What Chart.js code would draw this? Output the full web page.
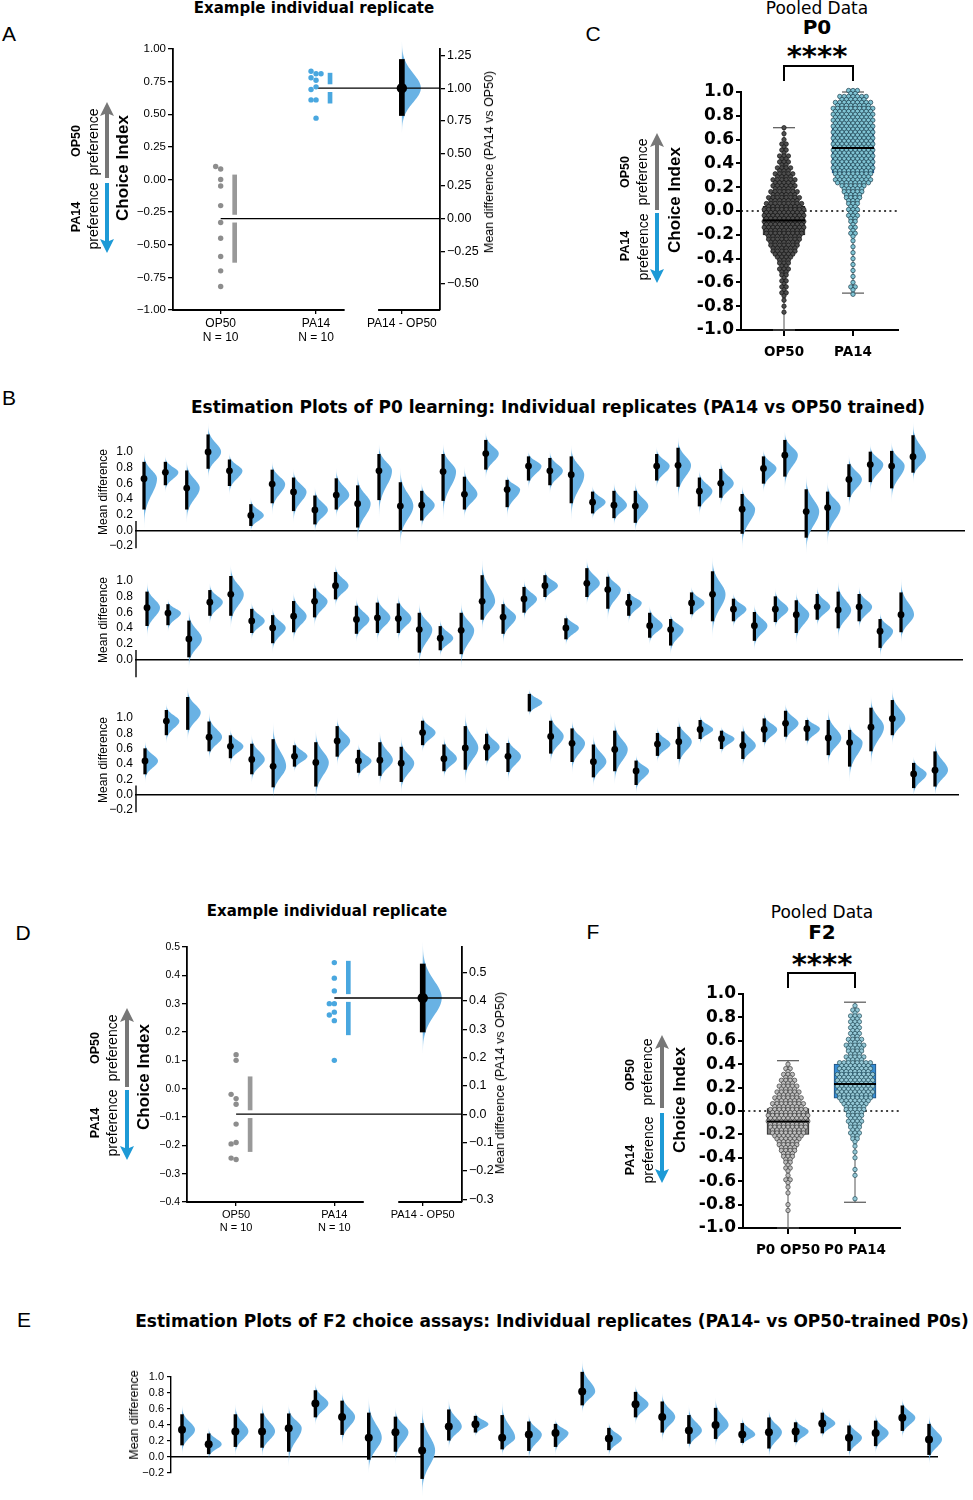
<!DOCTYPE html>
<html>
<head>
<meta charset="utf-8">
<title>P0 / F2 choice assays</title>
<script src="https://cdn.jsdelivr.net/npm/chart.js@4.4.1/dist/chart.umd.min.js"></script>
<style>
  html, body { margin: 0; padding: 0; background: #fff; }
  body { position: relative; width: 973px; height: 1500px; overflow: hidden; font-family: "Liberation Sans", Arial, sans-serif; color: #000; }
  canvas { position: absolute; }
  .lab { position: absolute; white-space: nowrap; line-height: 1; transform: translate(-50%, -50%); }
</style>
</head>
<body>
<script>
// ---------- data ----------

// A: example P0 replicate
const estLabels = [['OP50', 'N = 10'], ['PA14', 'N = 10'], 'PA14 - OP50'];
const estX = [0, 1, 1.9];
const aOP50 = [0.08, 0.10, 0.00, -0.05, -0.20, -0.33, -0.45, -0.59, -0.70, -0.82];
const aPA14 = [0.81, 0.83, 0.81, 0.78, 0.76, 0.71, 0.69, 0.61, 0.61, 0.47];
const aMean = [-0.30, 0.70];
const aSD = [0.335, 0.115];
const aDiff = [1.00];
const aDiffLo = [0.79];
const aDiffHi = [1.22];
const aTicks = [-1, -0.75, -0.5, -0.25, 0, 0.25, 0.5, 0.75, 1];
const aTicks2 = [-0.5, -0.25, 0, 0.25, 0.5, 0.75, 1, 1.25];

// D: example F2 replicate
const dOP50 = [0.12, 0.10, -0.035, -0.02, -0.055, -0.125, -0.19, -0.195, -0.25, -0.245];
const dPA14 = [0.445, 0.39, 0.345, 0.30, 0.30, 0.27, 0.26, 0.24, 0.10];
const dMean = [-0.09, 0.32];
const dSD = [0.132, 0.13];
const dDiff = [0.41];
const dDiffLo = [0.29];
const dDiffHi = [0.53];
const dTicks = [-0.4, -0.3, -0.2, -0.1, 0, 0.1, 0.2, 0.3, 0.4, 0.5];
const dTicks2 = [-0.3, -0.2, -0.1, 0, 0.1, 0.2, 0.3, 0.4, 0.5];

// C / F: pooled box plots
const cLabels = ['OP50', 'PA14'];
const cMin = [-1.0, -0.69];
const cQ1 = [-0.20, 0.32];
const cMed = [-0.08, 0.53];
const cQ3 = [0.04, 0.73];
const cMax = [0.70, 1.00];
const fLabels = ['P0 OP50', 'P0 PA14'];
const fMin = [-1.0, -0.78];
const fQ1 = [-0.20, 0.11];
const fMed = [-0.09, 0.23];
const fQ3 = [0.02, 0.40];
const fMax = [0.43, 0.93];
const pooledTicks = [-1, -0.8, -0.6, -0.4, -0.2, 0, 0.2, 0.4, 0.6, 0.8, 1];
// swarm: how many dots sit side by side at each choice-index level
const swarmLevels = [1.00, 0.95, 0.90, 0.85, 0.80, 0.75, 0.70, 0.65, 0.60, 0.55, 0.50, 0.45, 0.40, 0.35, 0.30, 0.25, 0.20, 0.15, 0.10, 0.05,
  0.00, -0.05, -0.10, -0.15, -0.20, -0.25, -0.30, -0.35, -0.40, -0.45, -0.50, -0.55, -0.60, -0.65, -0.70, -0.75, -0.80, -0.85, -0.90, -0.95, -1.00];
const cOP50Count = [0,0,0,0,0,0, 1,1,1,2,2,3,3,4,5,6,6,7,8,9, 10,10,10,10,9,8,7,6,4,3, 3,2,2,2,2,1,1,1,0,0,0];
const cPA14Count = [3,7,9, 10,10,10,10,10,10,10,10,10,10,10, 9,9,6,5,4,3, 3,3,2,2,2,1,1,1,1,1, 1,1,1,2,1, 0,0,0,0,0,0];
const fOP50Count = [0,0,0,0,0,0,0,0,0,0,0,0, 1,2,3,4,5,6,7,8, 9,10,10,9,8,6,5,4,3,2, 2,1,2,1,1,0,1,1,0,0,0];
const fPA14Count = [0,0,1,2,3,3,3,3,4,5,4,5,8,8,9,9,9,9,8,6, 5,4,4,3,3,2,1,1,1,0, 1,1,0,0,0,1,0,0,0,0,0];

// B: P0 replicates, mean difference with 95% CI, three rows
const r1Mean = [0.66, 0.74, 0.54, 1.00, 0.76, 0.19, 0.59, 0.49, 0.26, 0.45, 0.34, 0.76, 0.31, 0.32, 0.75, 0.46, 0.98, 0.52, 0.82, 0.76, 0.71, 0.36, 0.32, 0.31, 0.82, 0.83, 0.50, 0.60, 0.27, 0.79, 0.96, 0.24, 0.29, 0.65, 0.84, 0.82, 0.94];
const r1Hi = [0.87, 0.87, 0.76, 1.22, 0.90, 0.33, 0.77, 0.67, 0.44, 0.66, 0.57, 0.97, 0.61, 0.50, 0.97, 0.68, 1.15, 0.64, 0.94, 0.92, 0.94, 0.49, 0.50, 0.50, 0.97, 1.05, 0.67, 0.78, 0.46, 0.94, 1.15, 0.52, 0.49, 0.84, 1.00, 1.01, 1.21];
const r1Lo = [0.27, 0.58, 0.27, 0.79, 0.57, 0.06, 0.35, 0.25, 0.08, 0.27, 0.04, 0.39, 0.00, 0.13, 0.38, 0.27, 0.78, 0.30, 0.64, 0.58, 0.35, 0.22, 0.16, 0.10, 0.64, 0.56, 0.31, 0.42, -0.04, 0.60, 0.69, -0.09, 0.00, 0.43, 0.62, 0.54, 0.74];
const r2Mean = [0.66, 0.59, 0.26, 0.73, 0.83, 0.49, 0.40, 0.55, 0.74, 0.94, 0.51, 0.53, 0.52, 0.38, 0.27, 0.37, 0.74, 0.54, 0.77, 0.94, 0.40, 0.97, 0.89, 0.72, 0.43, 0.38, 0.72, 0.83, 0.64, 0.43, 0.64, 0.57, 0.67, 0.63, 0.67, 0.36, 0.57];
const r2Hi = [0.86, 0.70, 0.49, 0.88, 1.06, 0.64, 0.56, 0.74, 0.90, 1.11, 0.68, 0.72, 0.71, 0.59, 0.42, 0.59, 1.07, 0.70, 0.92, 1.07, 0.52, 1.16, 1.05, 0.83, 0.59, 0.51, 0.85, 1.12, 0.77, 0.60, 0.80, 0.75, 0.83, 0.86, 0.83, 0.51, 0.85];
const r2Lo = [0.43, 0.44, 0.03, 0.56, 0.56, 0.34, 0.21, 0.35, 0.54, 0.77, 0.33, 0.34, 0.34, 0.09, 0.12, 0.07, 0.51, 0.33, 0.60, 0.80, 0.26, 0.80, 0.65, 0.56, 0.28, 0.18, 0.58, 0.49, 0.49, 0.24, 0.48, 0.34, 0.51, 0.40, 0.49, 0.15, 0.35];
const r3Mean = [0.44, 0.96, 1.07, 0.75, 0.63, 0.46, 0.37, 0.50, 0.42, 0.70, 0.44, 0.45, 0.41, 0.81, 0.47, 0.61, 0.62, 0.50, 1.20, 0.76, 0.67, 0.43, 0.59, 0.31, 0.66, 0.69, 0.85, 0.73, 0.64, 0.85, 0.93, 0.86, 0.74, 0.68, 0.88, 0.99, 0.27, 0.32];
const r3Hi = [0.60, 1.10, 1.27, 0.95, 0.77, 0.66, 0.72, 0.64, 0.68, 0.89, 0.58, 0.68, 0.62, 0.96, 0.65, 0.89, 0.79, 0.67, 1.31, 0.96, 0.86, 0.65, 0.83, 0.44, 0.80, 0.88, 0.97, 0.83, 0.82, 0.99, 1.09, 0.97, 0.97, 0.84, 1.13, 1.23, 0.41, 0.56];
const r3Lo = [0.27, 0.78, 0.85, 0.57, 0.48, 0.27, 0.10, 0.37, 0.11, 0.50, 0.29, 0.25, 0.17, 0.65, 0.31, 0.33, 0.45, 0.30, 1.09, 0.54, 0.43, 0.23, 0.31, 0.13, 0.51, 0.47, 0.73, 0.60, 0.47, 0.69, 0.76, 0.71, 0.52, 0.37, 0.57, 0.78, 0.09, 0.11];
// E: F2 replicates
const eMean = [0.34, 0.16, 0.32, 0.32, 0.36, 0.67, 0.50, 0.24, 0.31, 0.08, 0.38, 0.41, 0.24, 0.28, 0.30, 0.82, 0.23, 0.66, 0.50, 0.33, 0.40, 0.28, 0.31, 0.32, 0.42, 0.24, 0.30, 0.49, 0.22];
const eHi = [0.53, 0.29, 0.53, 0.54, 0.54, 0.83, 0.70, 0.55, 0.50, 0.42, 0.59, 0.51, 0.52, 0.44, 0.41, 1.06, 0.36, 0.81, 0.69, 0.52, 0.61, 0.42, 0.49, 0.43, 0.55, 0.39, 0.45, 0.64, 0.41];
const eLo = [0.15, 0.04, 0.13, 0.12, 0.07, 0.50, 0.28, -0.03, 0.07, -0.27, 0.21, 0.31, 0.10, 0.08, 0.13, 0.65, 0.09, 0.50, 0.31, 0.17, 0.23, 0.18, 0.11, 0.19, 0.30, 0.08, 0.14, 0.33, 0.03];
const rowTicks = [-0.2, 0, 0.2, 0.4, 0.6, 0.8, 1.0];
const rowTicksNoNeg = [0, 0.2, 0.4, 0.6, 0.8, 1.0];

// ---------- styling ----------
const GREY_DOT = '#8d8d8d';
const BLUE_DOT = '#49a7df';
const VIOLIN = '105,178,228';
const SANS = '"Liberation Sans", Arial, sans-serif';
const DEJA = '"DejaVu Sans", sans-serif';

Chart.defaults.font.family = SANS;
Chart.defaults.color = '#000';
Chart.defaults.animation = false;
Chart.defaults.responsive = false;
Chart.defaults.events = [];
Chart.defaults.plugins.legend.display = false;
Chart.defaults.plugins.tooltip.enabled = false;

const minus1 = v => (v < 0 ? '\u2212' : '') + Math.abs(v).toFixed(1);
const minus2 = v => (v < 0 ? '\u2212' : '') + Math.abs(v).toFixed(2);

// ---------- helpers ----------
function label(x, y, text, font, rot) {
  const d = document.createElement('div');
  d.className = 'lab';
  d.textContent = text;
  d.style.left = x + 'px';
  d.style.top = y + 'px';
  d.style.font = font;
  if (rot) d.style.transform = 'translate(-50%, -50%) rotate(-90deg)';
  document.body.appendChild(d);
}

function arrow(x, y1, y2, color, up) {
  const ns = 'http://www.w3.org/2000/svg';
  const s = document.createElementNS(ns, 'svg');
  const w = 16, h = y2 - y1, hd = 14;
  s.setAttribute('width', w);
  s.setAttribute('height', h);
  s.style.cssText = 'position:absolute;left:' + (x - w / 2) + 'px;top:' + y1 + 'px';
  const p = document.createElementNS(ns, 'path');
  p.setAttribute('d', up
    ? `M8 0 L15 ${hd} L10 ${hd - 2} L10 ${h} L6 ${h} L6 ${hd - 2} L1 ${hd} Z`
    : `M8 ${h} L15 ${h - hd} L10 ${h - hd + 2} L10 0 L6 0 L6 ${h - hd + 2} L1 ${h - hd} Z`);
  p.setAttribute('fill', color);
  s.appendChild(p);
  document.body.appendChild(s);
}

// the rotated "Choice Index" title with its preference arrows
function choiceAxis(o) {
  label(o.ci[0], o.ci[1], 'Choice Index', 'bold 17px ' + SANS, true);
  label(o.op[0], o.op[1], 'OP50', 'bold 12.5px ' + SANS, true);
  label(o.opPref[0], o.opPref[1], 'preference', '14px ' + SANS, true);
  label(o.pa[0], o.pa[1], 'PA14', 'bold 12.5px ' + SANS, true);
  label(o.paPref[0], o.paPref[1], 'preference', '14px ' + SANS, true);
  arrow(o.ax, o.grey[0], o.grey[1], '#777', true);
  arrow(o.ax, o.blue[0], o.blue[1], '#1d9ad6', false);
}

function makeCanvas(geo, pad) {
  const c = document.createElement('canvas');
  const l = Math.round(geo.l), t = Math.round(geo.t);
  c.width = Math.round(geo.r) - l + pad.l + pad.r;
  c.height = Math.round(geo.b) - t + pad.t + pad.b;
  c.style.left = (l - pad.l) + 'px';
  c.style.top = (t - pad.t) + 'px';
  document.body.appendChild(c);
  return c;
}

// half violin (bootstrap distribution) to the right of each estimate
function violinPlugin(xs, mean, lo, hi, width, axisId) {
  return {
    id: 'violin',
    beforeDatasetsDraw(chart) {
      const sx = chart.scales.x, sy = chart.scales[axisId], ctx = chart.ctx;
      mean.forEach((m, i) => {
        const su = (hi[i] - m) / 1.96, sd = (m - lo[i]) / 1.96;
        const cx = sx.getPixelForValue(xs[i]);
        const top = sy.getPixelForValue(m + 3.2 * su), bot = sy.getPixelForValue(m - 3.2 * sd);
        const frac = v => Math.min(1, Math.max(0, (sy.getPixelForValue(v) - top) / (bot - top)));
        const g = ctx.createLinearGradient(0, top, 0, bot);
        g.addColorStop(0, `rgba(${VIOLIN},0.1)`);
        g.addColorStop(frac(m + 2 * su), `rgba(${VIOLIN},1)`);
        g.addColorStop(frac(m - 2 * sd), `rgba(${VIOLIN},1)`);
        g.addColorStop(1, `rgba(${VIOLIN},0.1)`);
        ctx.save();
        ctx.fillStyle = g;
        ctx.beginPath();
        ctx.moveTo(cx, top);
        for (let k = 0; k <= 64; k++) {
          const t = 3.2 - 6.4 * k / 64;
          ctx.lineTo(cx + width * Math.exp(-t * t / 2), sy.getPixelForValue(m + t * (t > 0 ? su : sd)));
        }
        ctx.lineTo(cx, bot);
        ctx.closePath();
        ctx.fill();
        ctx.restore();
      });
    }
  };
}

function segmentsPlugin(segs, lw) {
  return {
    id: 'segments',
    afterDraw(chart) {
      const sx = chart.scales.x, ctx = chart.ctx, y = chart.chartArea.bottom;
      ctx.save();
      ctx.strokeStyle = '#000';
      ctx.lineWidth = lw;
      segs.forEach(([a, b]) => {
        ctx.beginPath();
        ctx.moveTo(sx.getPixelForValue(a) - lw / 2, y);
        ctx.lineTo(sx.getPixelForValue(b), y);
        ctx.stroke();
      });
      ctx.restore();
    }
  };
}

function stubPlugin(from, to, lw) {
  return {
    id: 'stub',
    afterDraw(chart) {
      const sy = chart.scales.y, ctx = chart.ctx, x = chart.chartArea.left;
      ctx.save();
      ctx.strokeStyle = '#000';
      ctx.lineWidth = lw;
      ctx.beginPath();
      ctx.moveTo(x, sy.getPixelForValue(from));
      ctx.lineTo(x, sy.getPixelForValue(to));
      ctx.stroke();
      ctx.restore();
    }
  };
}

function bracketPlugin(up, down) {
  return {
    id: 'bracket',
    afterDraw(chart) {
      const sx = chart.scales.x, ctx = chart.ctx, t = chart.chartArea.top;
      const x0 = sx.getPixelForValue(0), x1 = sx.getPixelForValue(1);
      ctx.save();
      ctx.strokeStyle = '#000';
      ctx.lineWidth = 2;
      ctx.beginPath();
      ctx.moveTo(x0, t - down);
      ctx.lineTo(x0, t - up);
      ctx.lineTo(x1, t - up);
      ctx.lineTo(x1, t - down);
      ctx.stroke();
      ctx.restore();
    }
  };
}

// raw replicate dots spread sideways when they would overlap
function swarmRaw(values, cx, pxY, pxX, d) {
  const placed = [];
  return values.map(v => {
    const py = v * pxY;
    let k = 0;
    for (const s of [0, -1, 1, -2, 2, -3, 3]) {
      if (placed.every(p => Math.hypot(p.px - s * d, p.py - py) >= d * 0.9)) { k = s; break; }
    }
    placed.push({px: k * d, py});
    return {x: cx + k * d / pxX, y: v};
  });
}

// dot rows for the pooled swarms: two staggered rows per level
function swarmFromCounts(levels, counts, cx, pxX, dotPx) {
  const pts = [];
  const dy = (levels[0] - levels[1]) / 4;
  levels.forEach((v, i) => {
    const n = counts[i];
    if (!n) return;
    if (n === 1) { pts.push({x: cx, y: v}); return; }
    for (let k = 0; k < n; k++) pts.push({x: cx + (k - (n - 1) / 2) * dotPx / pxX, y: v + dy});
    for (let k = 0; k < n - 1; k++) pts.push({x: cx + (k - (n - 2) / 2) * dotPx / pxX, y: v - dy});
  });
  return pts;
}

const hline = (x0, x1, y, color, w, extra) => Object.assign({
  type: 'line', data: [{x: x0, y}, {x: x1, y}], borderColor: color, borderWidth: w,
  pointRadius: 0, fill: false, clip: false
}, extra || {});

// ---------- Gardner-Altman panels (A, D) ----------
function estimationPanel(geo, yMin, yMax, ticks, ticks2, fmt, ctl, trt, mean, sd, diff, dLo, dHi, fs) {
  const pad = {l: 50, t: 12, r: 52, b: 40};
  const xMin = -0.5, xMax = 2.3;
  const pxX = (geo.r - geo.l) / (xMax - xMin);
  const pxY = (geo.b - geo.t) / (yMax - yMin);
  const shift = -mean[0];
  const gap = 4.2 / pxY, sdOff = 14 / pxX;
  const canvas = makeCanvas(geo, pad);
  const sdBars = [];
  mean.forEach((m, g) => {
    sdBars.push({x: g + sdOff, y: [m + gap, m + sd[g]]});
    sdBars.push({x: g + sdOff, y: [m - sd[g], m - gap]});
  });
  new Chart(canvas, {
    type: 'scatter',
    data: {
      datasets: [
        hline(estX[0], xMax, mean[0], '#000', 1.3, {order: 6}),
        hline(estX[1], xMax, mean[1], '#000', 1.3, {order: 6}),
        {data: swarmRaw(ctl, estX[0], pxY, pxX, 5), pointRadius: 2.7, backgroundColor: GREY_DOT, borderWidth: 0, clip: false, order: 3},
        {data: swarmRaw(trt, estX[1], pxY, pxX, 5), pointRadius: 2.7, backgroundColor: BLUE_DOT, borderWidth: 0, clip: false, order: 3},
        {type: 'bar', data: sdBars, backgroundColor: ['#999', '#999', BLUE_DOT, BLUE_DOT], barThickness: 4, grouped: false, clip: false, order: 4},
        {type: 'bar', yAxisID: 'y2', data: diff.map((m, i) => ({x: estX[2], y: [dLo[i], dHi[i]]})), backgroundColor: '#000', barThickness: 5, grouped: false, clip: false, order: 2},
        {yAxisID: 'y2', data: diff.map(m => ({x: estX[2], y: m})), pointRadius: 5.2, backgroundColor: '#000', borderWidth: 0, clip: false, order: 1}
      ]
    },
    options: {
      layout: {padding: {top: pad.t, left: 0, right: 0, bottom: 0}},
      scales: {
        x: {
          type: 'linear', min: xMin, max: xMax, offset: false,
          afterFit: s => { s.height = pad.b; },
          afterBuildTicks: s => { s.ticks = estX.map(v => ({value: v})); },
          ticks: {callback: (v, i) => estLabels[i], font: {size: fs.x}, padding: 2, maxRotation: 0, autoSkip: false},
          grid: {display: true, drawOnChartArea: false, tickLength: 4, lineWidth: 1.3, color: '#000', offset: false},
          border: {display: false}
        },
        y: {
          type: 'linear', min: yMin, max: yMax,
          afterFit: s => { s.width = pad.l; },
          afterBuildTicks: s => { s.ticks = ticks.map(v => ({value: v})); },
          ticks: {callback: v => fmt(v), font: {size: fs.y}, padding: 2, autoSkip: false},
          grid: {display: true, drawOnChartArea: false, tickLength: 5, lineWidth: 1.3, color: '#000'},
          border: {display: true, width: 1.8, color: '#000'}
        },
        y2: {
          type: 'linear', position: 'right', min: yMin + shift, max: yMax + shift,
          afterFit: s => { s.width = pad.r; },
          afterBuildTicks: s => { s.ticks = ticks2.map(v => ({value: v})); },
          ticks: {callback: v => fmt(v), font: {size: fs.y2}, padding: 2, autoSkip: false},
          grid: {display: true, drawOnChartArea: false, tickLength: 5, lineWidth: 1.3, color: '#000'},
          border: {display: true, width: 1.8, color: '#000'}
        }
      }
    },
    plugins: [
      violinPlugin([estX[2]], diff, dLo, dHi, 19, 'y2'),
      segmentsPlugin([[xMin, 1.3], [1.66, xMax]], 1.8)
    ]
  });
}

// ---------- pooled box + swarm panels (C, F) ----------
function pooledPanel(geo, catPx, labels, mn, q1, md, q3, mx, counts, look, br) {
  const pad = {l: 62, t: 35, r: 10, b: 45};
  const unit = catPx[1] - catPx[0];
  const xMin = (geo.l - catPx[0]) / unit, xMax = (geo.r - catPx[0]) / unit;
  const boxHalf = 21 / unit, capHalf = 11 / unit;
  const canvas = makeCanvas(geo, pad);
  const ds = [hline(xMin, xMax, 0, '#000', 1.6, {borderDash: [2, 3.3], order: 9})];
  labels.forEach((_, g) => {
    ds.push({type: 'line', data: [{x: g, y: mn[g]}, {x: g, y: mx[g]}], borderColor: '#555', borderWidth: 1, pointRadius: 0, clip: false, order: 8});
    ds.push(hline(g - capHalf, g + capHalf, mx[g], '#555', 1.2, {order: 8}));
    ds.push(hline(g - capHalf, g + capHalf, mn[g], '#555', 1.2, {order: 8}));
    ds.push({data: swarmFromCounts(swarmLevels, counts[g], g, unit, 4.4), pointRadius: 2.2,
      backgroundColor: look.dot[g], borderColor: look.edge[g], borderWidth: 0.7, clip: false, order: 3});
    ds.push(hline(g - boxHalf, g + boxHalf, md[g], '#000', 2, {order: 1}));
  });
  ds.push({type: 'bar', data: labels.map((_, g) => ({x: g, y: [q1[g], q3[g]]})), backgroundColor: look.box,
    borderColor: look.boxEdge, borderWidth: 1, borderSkipped: false, barThickness: 42, grouped: false, clip: false, order: 5});
  new Chart(canvas, {
    type: 'scatter',
    data: {datasets: ds},
    options: {
      layout: {padding: {top: pad.t, left: 0, right: pad.r, bottom: 0}},
      scales: {
        x: {
          type: 'linear', min: xMin, max: xMax, offset: false,
          afterFit: s => { s.height = pad.b; },
          afterBuildTicks: s => { s.ticks = labels.map((_, g) => ({value: g})); },
          ticks: {callback: (v, i) => labels[i], font: {family: DEJA, weight: 'bold', size: 13.5}, padding: 8, maxRotation: 0, autoSkip: false},
          grid: {display: true, drawOnChartArea: false, tickLength: 6, lineWidth: 2, color: '#000', offset: false},
          border: {display: true, width: 2, color: '#000'}
        },
        y: {
          type: 'linear', min: -1, max: 1,
          afterFit: s => { s.width = pad.l; },
          afterBuildTicks: s => { s.ticks = pooledTicks.map(v => ({value: v})); },
          ticks: {callback: v => v.toFixed(1), font: {family: DEJA, weight: 'bold', size: 17}, padding: 2, autoSkip: false},
          grid: {display: true, drawOnChartArea: false, tickLength: 5, lineWidth: 2, color: '#000'},
          border: {display: true, width: 2, color: '#000'}
        }
      }
    },
    plugins: [bracketPlugin(br[0], br[1])]
  });
}

// ---------- rows of replicate estimates (B, E) ----------
function estimationRow(mean, lo, hi, ticks, geo, opt) {
  const n = mean.length;
  const sp = (geo.last - geo.first) / (n - 1);
  const xMin = -(geo.first - geo.l) / sp, xMax = (geo.r - geo.first) / sp;
  const pad = {l: 45, t: 45, r: 12, b: 30};
  const canvas = makeCanvas(geo, pad);
  const idx = mean.map((m, i) => i);
  new Chart(canvas, {
    type: 'scatter',
    data: {
      datasets: [
        {type: 'bar', data: idx.map(i => ({x: i, y: [lo[i], hi[i]]})), backgroundColor: '#000', barThickness: opt.ciW, grouped: false, clip: false, order: 2},
        {data: idx.map(i => ({x: i, y: mean[i]})), pointRadius: opt.dotR, backgroundColor: '#000', borderWidth: 0, clip: false, order: 1}
      ]
    },
    options: {
      layout: {padding: {top: pad.t, bottom: pad.b, left: 0, right: pad.r}},
      scales: {
        x: {
          type: 'linear', min: xMin, max: xMax, offset: false, position: {y: 0},
          ticks: {display: false}, grid: {display: false},
          border: {display: true, color: '#000', width: 1.4}
        },
        y: {
          type: 'linear', min: geo.yMin, max: geo.yMax,
          afterFit: s => { s.width = pad.l; },
          afterBuildTicks: s => { s.ticks = ticks.map(v => ({value: v})); },
          ticks: {callback: v => minus1(v), font: {size: opt.fs}, padding: 3, autoSkip: false},
          grid: {display: opt.full, drawOnChartArea: false, drawTicks: opt.full, tickLength: 4, lineWidth: 1.2, color: '#000'},
          border: {display: opt.full, color: '#000', width: 1.4}
        }
      }
    },
    plugins: [violinPlugin(idx, mean, lo, hi, 13, 'y')].concat(opt.full ? [] : [stubPlugin(0.12, geo.yMin - 0.03, 1.4)])
  });
}

// ---------- build the figure ----------
const LETTER = '21px ' + SANS;
const TITLE = 'bold 15px ' + DEJA;
const ROW_TITLE = 'bold 17px ' + DEJA;

// A
label(9, 34, 'A', LETTER);
label(314, 8, 'Example individual replicate', TITLE);
estimationPanel({l: 173, t: 49, r: 440, b: 310}, -1, 1, aTicks, aTicks2, minus2,
  aOP50, aPA14, aMean, aSD, aDiff, aDiffLo, aDiffHi, {x: 12, y: 11.5, y2: 12.5});
choiceAxis({ci: [123, 168], op: [76, 141], opPref: [93, 142], pa: [76, 217], paPref: [93, 216], ax: 107, grey: [102, 178], blue: [183, 253]});
label(489, 162, 'Mean difference (PA14 vs OP50)', '12.5px ' + SANS, true);

// C
label(593, 34, 'C', LETTER);
label(817, 8, 'Pooled Data', '17px ' + DEJA);
label(817, 27, 'P0', 'bold 20px ' + DEJA);
label(817, 56, '****', 'bold 29px ' + DEJA);
pooledPanel({l: 741, t: 92, r: 898, b: 330}, [784, 853], cLabels, cMin, cQ1, cMed, cQ3, cMax,
  [cOP50Count, cPA14Count],
  {dot: ['rgb(78,78,78)', 'rgb(128,196,212)'], edge: ['rgb(20,20,20)', 'rgb(28,62,76)'],
   box: ['rgb(128,128,128)', 'rgb(55,140,210)'], boxEdge: ['#222', '#1d4d7a']}, [26, 11]);
choiceAxis({ci: [675, 200], op: [625, 172], opPref: [642, 172], pa: [625, 246], paPref: [643, 247], ax: 657, grey: [133, 210], blue: [213, 283]});

// B
label(9, 398, 'B', LETTER);
label(558, 407, 'Estimation Plots of P0 learning: Individual replicates (PA14 vs OP50 trained)', ROW_TITLE);
estimationRow(r1Mean, r1Lo, r1Hi, rowTicks, {l: 136, r: 964, t: 452, b: 546, yMin: -0.2, yMax: 1.0, first: 144, last: 913}, {ciW: 2.6, dotR: 3.4, fs: 12, full: false});
estimationRow(r2Mean, r2Lo, r2Hi, rowTicksNoNeg, {l: 136, r: 962, t: 581, b: 675, yMin: -0.2, yMax: 1.0, first: 147, last: 901}, {ciW: 2.6, dotR: 3.4, fs: 12, full: false});
estimationRow(r3Mean, r3Lo, r3Hi, rowTicks, {l: 136, r: 958, t: 718, b: 810, yMin: -0.2, yMax: 1.0, first: 145, last: 935}, {ciW: 2.6, dotR: 3.4, fs: 12, full: false});
label(103, 492, 'Mean difference', '12px ' + SANS, true);
label(103, 620, 'Mean difference', '12px ' + SANS, true);
label(103, 760, 'Mean difference', '12px ' + SANS, true);

// D
label(23, 933, 'D', LETTER);
label(327, 911, 'Example individual replicate', TITLE);
estimationPanel({l: 187, t: 947, r: 462, b: 1202}, -0.4, 0.5, dTicks, dTicks2, minus1,
  dOP50, dPA14, dMean, dSD, dDiff, dDiffLo, dDiffHi, {x: 11, y: 10.5, y2: 12.5});
choiceAxis({ci: [144, 1077], op: [95, 1048], opPref: [112, 1048], pa: [95, 1123], paPref: [112, 1123], ax: 127, grey: [1008, 1087], blue: [1090, 1160]});
label(500, 1083, 'Mean difference (PA14 vs OP50)', '12.5px ' + SANS, true);

// F
label(593, 932, 'F', LETTER);
label(822, 912, 'Pooled Data', '17px ' + DEJA);
label(822, 932, 'F2', 'bold 20px ' + DEJA);
label(822, 964, '****', 'bold 29px ' + DEJA);
pooledPanel({l: 743, t: 994, r: 900, b: 1228}, [788, 855], fLabels, fMin, fQ1, fMed, fQ3, fMax,
  [fOP50Count, fPA14Count],
  {dot: ['rgb(190,190,190)', 'rgb(150,202,216)'], edge: ['rgb(60,60,60)', 'rgb(34,74,88)'],
   box: ['rgb(128,128,128)', 'rgb(55,140,210)'], boxEdge: ['#222', '#1d4d7a']}, [21, 6]);
choiceAxis({ci: [680, 1100], op: [630, 1075], opPref: [647, 1072], pa: [630, 1160], paPref: [648, 1150], ax: 662, grey: [1035, 1108], blue: [1113, 1183]});

// E
label(24, 1320, 'E', LETTER);
label(552, 1321, 'Estimation Plots of F2 choice assays: Individual replicates (PA14- vs OP50-trained P0s)', ROW_TITLE);
estimationRow(eMean, eLo, eHi, rowTicks, {l: 171, r: 937, t: 1377, b: 1473, yMin: -0.2, yMax: 1.0, first: 182, last: 929}, {ciW: 2.8, dotR: 4, fs: 11, full: true});
label(134, 1415, 'Mean difference', '12.5px ' + SANS, true);
</script>
</body>
</html>
